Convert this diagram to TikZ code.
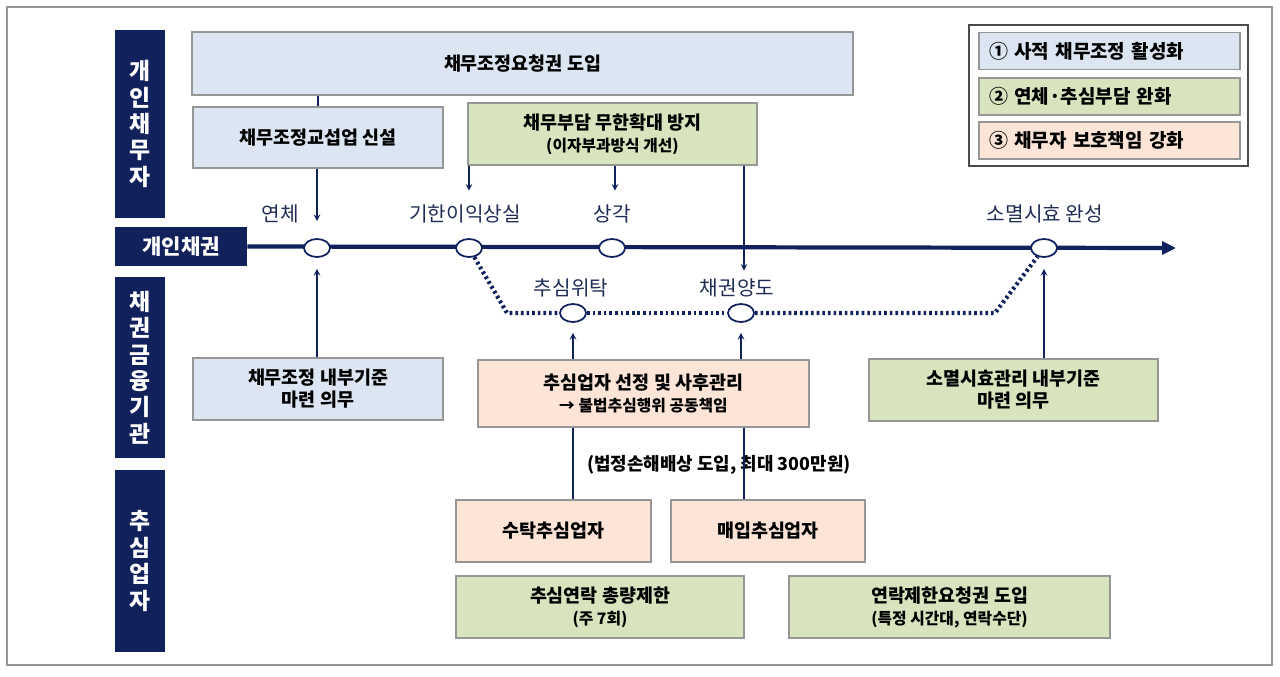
\documentclass[tikz,border=0pt]{standalone}
\usepackage{fontspec}
\setmainfont{Noto Sans CJK KR}
\usepackage{tikz}
\usetikzlibrary{arrows.meta,shapes.geometric,positioning}
\definecolor{navy}{RGB}{16,33,92}
\definecolor{labelnavy}{RGB}{31,45,85}
\definecolor{boxblue}{RGB}{220,230,242}
\definecolor{boxgreen}{RGB}{216,228,190}
\definecolor{boxpeach}{RGB}{252,229,214}
\definecolor{edgegray}{RGB}{150,150,150}
\tikzset{>=stealth,
  bar/.style={fill=navy,text=white,inner sep=0pt,align=center,
    font=\bfseries\fontsize{13}{15}\selectfont},
  box/.style={draw=edgegray,line width=0.8pt,inner sep=0pt,align=center,
    font=\bfseries\fontsize{10.5}{12.5}\selectfont},
  legbox/.style={box,minimum width=5.22cm,minimum height=0.74cm,text width=4.82cm,
    align=left,inner xsep=0.2cm,font=\bfseries\fontsize{10.8}{13}\selectfont},
  stop/.style={ellipse,draw=navy,fill=white,line width=1pt,inner sep=0pt,
    minimum width=0.52cm,minimum height=0.36cm},
  tick/.style={text=labelnavy,font=\fontsize{11.5}{13}\selectfont},
  link/.style={navy,line width=0.7pt},
  dots/.style={navy,line width=2.4pt,dash pattern=on 1.5pt off 1.7pt}
}
\newcommand{\subline}[1]{{\fontsize{9}{10.5}\selectfont #1}}

\begin{document}
\begin{tikzpicture}[x=0.02cm,y=-0.02cm]
\useasboundingbox (0,0) rectangle (1280,676);
\draw[edgegray,line width=0.8pt] (7,7) rectangle (1272,665);

% row headers
\node[bar,minimum width=1cm,minimum height=3.76cm] (debtor) at (140,124) {개\\인\\채\\무\\자};
\node[bar,minimum width=2.64cm,minimum height=0.78cm,font=\bfseries\fontsize{12}{14}\selectfont] (claim) at (181,246.5) {개인채권};
\node[bar,minimum width=1cm,minimum height=3.62cm] (creditor) at (140,367.5) {채\\권\\금\\융\\기\\관};
\node[bar,minimum width=1cm,minimum height=3.64cm] (agency) at (140,561) {추\\심\\업\\자};

% boxes
\node[box,fill=boxblue,minimum width=13.22cm,minimum height=1.26cm] (req) at (522.5,63.5) {채무조정요청권 도입};
\node[box,fill=boxblue,minimum width=5cm,minimum height=1.22cm] (nego) at (318,137.5) {채무조정교섭업 신설};
\node[box,fill=boxgreen,minimum width=5.78cm,minimum height=1.24cm] (burden) at (612.5,134) {채무부담 무한확대 방지\\\subline{(이자부과방식 개선)}};
\node[box,fill=boxblue,minimum width=5cm,minimum height=1.24cm] (inner) at (318,389) {채무조정 내부기준\\마련 의무};
\node[box,fill=boxpeach,minimum width=6.62cm,minimum height=1.34cm] (select) at (643.5,393.5) {추심업자 선정 및 사후관리\\\subline{→ 불법추심행위 공동책임}};
\node[box,fill=boxgreen,minimum width=5.78cm,minimum height=1.24cm] (lapsebox) at (1013.5,390) {소멸시효관리 내부기준\\마련 의무};
\node[box,fill=boxpeach,minimum width=3.9cm,minimum height=1.24cm] (trust) at (553.5,531) {수탁추심업자};
\node[box,fill=boxpeach,minimum width=3.88cm,minimum height=1.24cm] (buy) at (768,531) {매입추심업자};
\node[box,fill=boxgreen,minimum width=5.76cm,minimum height=1.24cm] (limit) at (600,607) {추심연락 총량제한\\\subline{(주 7회)}};
\node[box,fill=boxgreen,minimum width=6.42cm,minimum height=1.24cm] (refuse) at (949.5,607) {연락제한요청권 도입\\\subline{(특정 시간대, 연락수단)}};
\node[font=\bfseries\fontsize{10.2}{12}\selectfont] (damage) at (719,465) {(법정손해배상 도입, 최대 300만원)};

% legend
\draw[gray!60!black,line width=0.8pt] (969,25) rectangle (1248,166);
\node[legbox,fill=boxblue] (leg1) at (1109.5,51) {① 사적 채무조정 활성화};
\node[legbox,fill=boxgreen] (leg2) at (1109.5,96.5) {② 연체·추심부담 완화};
\node[legbox,fill=boxpeach] (leg3) at (1109.5,140.5) {③ 채무자 보호책임 강화};

% timeline
\coordinate (tlend) at (1176,248);
\draw[navy,line width=2.4pt,-{Triangle[length=2.8mm,width=2.6mm]}] (claim.east) -- (tlend);
\node[stop] (overdue) at (317,248) {};
\node[stop] (accel) at (469,248) {};
\node[stop] (writeoff) at (612,248) {};
\node[stop] (lapse) at (1044,248) {};
\node[stop] (collect) at (573,313) {};
\node[stop] (transfer) at (741,313) {};
\coordinate (dl) at (507,313);
\coordinate (dr) at (995,313);
\draw[dots] (accel) -- (dl) -- (collect.west);
\draw[dots] (collect.east) -- (transfer.west);
\draw[dots] (transfer.east) -- (dr) -- (lapse);

\node[tick] (t-overdue) at (280,214) {연체};
\node[tick] (t-accel) at (465,214) {기한이익상실};
\node[tick] (t-writeoff) at (612,214) {상각};
\node[tick] (t-lapse) at (1045,214) {소멸시효 완성};
\node[tick] (t-collect) at (571,288) {추심위탁};
\node[tick] (t-transfer) at (737,288) {채권양도};

% connectors
\draw[link] (req.south -| nego) -- (nego.north);
\draw[link,->,shorten >=0.34cm] (nego.south -| overdue) -- (overdue.north);
\draw[link,->,shorten >=0.22cm] (inner.north -| overdue) -- (overdue.south);
\draw[link,->] (burden.south -| accel) -- ++(0,25);
\draw[link,->] (burden.south -| 615,0) -- ++(0,25);
\draw[link,->] (burden.south -| 744,0) -- ++(0,105);
\draw[link,->,shorten >=0.2cm] (select.north -| collect) -- (collect.south);
\draw[link,->,shorten >=0.2cm] (select.north -| transfer) -- (transfer.south);
\draw[link] (select.south -| collect) -- (trust.north -| collect);
\draw[link] (select.south -| 744,0) -- (buy.north -| 744,0);
\draw[link,->,shorten >=0.22cm] (lapsebox.north -| lapse) -- (lapse.south);
\end{tikzpicture}
\end{document}
